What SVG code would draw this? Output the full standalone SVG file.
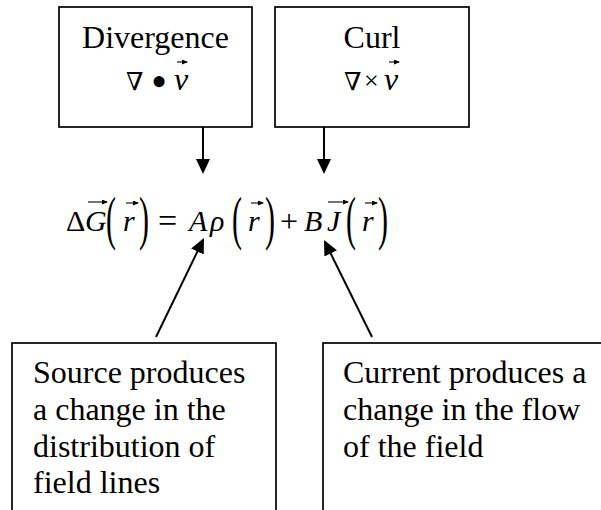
<svg xmlns="http://www.w3.org/2000/svg" width="601" height="510" viewBox="0 0 601 510">
<defs>
<style>
.box{fill:#fff;stroke:#000;stroke-width:1.7}
.t{font-family:"Liberation Serif","Times New Roman",serif;fill:#000}
.lbl{font-size:32px}
.mid{text-anchor:middle}
.it{font-style:italic}
.nab{font-family:"DejaVu Serif","Liberation Serif",serif;font-size:25px}
.eq{font-size:30px}
.par{font-size:60px}
.conn{stroke:#000;stroke-width:2;fill:none}
.vec{stroke:#000;stroke-width:1.1;fill:none}
</style>
<marker id="ah" markerUnits="userSpaceOnUse" viewBox="0 0 15 14" markerWidth="15" markerHeight="14" refX="13" refY="7" orient="auto"><path d="M0,0 L15,7 L0,14 Z" fill="#000"/></marker>
<marker id="va" markerUnits="userSpaceOnUse" viewBox="0 0 6 5" markerWidth="6" markerHeight="5" refX="5" refY="2.5" orient="auto"><path d="M0,0 L6,2.5 L0,5 Z" fill="#000"/></marker>
</defs>
<rect x="0" y="0" width="601" height="510" fill="#fff"/>

<g id="divergence">
<rect class="box" x="59" y="7" width="193" height="120"/>
<text class="t lbl mid" x="155.5" y="48">Divergence</text>
<text class="t nab" x="126" y="90">∇</text>
<text class="t" font-size="46" x="151" y="97">•</text>
<text class="t lbl it" x="174" y="90">v</text>
<path class="vec" d="M177,62 H187" marker-end="url(#va)"/>
</g>

<g id="curl">
<rect class="box" x="275" y="7" width="194" height="120"/>
<text class="t lbl mid" x="372" y="48">Curl</text>
<text class="t nab" x="344" y="90">∇</text>
<text class="t" font-size="26" x="364" y="89">×</text>
<text class="t lbl it" x="384" y="90">v</text>
<path class="vec" d="M389,62 H399" marker-end="url(#va)"/>
</g>

<g id="equation">
<text class="t eq" x="66" y="231">Δ</text>
<text class="t eq it" x="85" y="231">G</text>
<path class="vec" d="M88,202 H107" marker-end="url(#va)"/>
<text class="t par" transform="translate(106,237.6) scale(0.5,1)">(</text>
<text class="t eq it" x="123" y="231">r</text>
<path class="vec" d="M126,203 H138" marker-end="url(#va)"/>
<text class="t par" transform="translate(139,237.6) scale(0.5,1)">)</text>
<text class="t" font-size="34" x="158" y="232">=</text>
<text class="t eq it" x="189" y="231">A</text>
<text class="t eq it" x="210" y="231">ρ</text>
<text class="t par" transform="translate(232,237.6) scale(0.5,1)">(</text>
<text class="t eq it" x="248" y="231">r</text>
<path class="vec" d="M251,203 H263" marker-end="url(#va)"/>
<text class="t par" transform="translate(265,237.6) scale(0.5,1)">)</text>
<text class="t" font-size="32" x="280" y="232">+</text>
<text class="t eq it" x="304" y="231">B</text>
<text class="t eq it" x="327" y="231">J</text>
<path class="vec" d="M328,202 H348" marker-end="url(#va)"/>
<text class="t par" transform="translate(346,237.6) scale(0.5,1)">(</text>
<text class="t eq it" x="362" y="231">r</text>
<path class="vec" d="M365,203 H377" marker-end="url(#va)"/>
<text class="t par" transform="translate(378,237.6) scale(0.5,1)">)</text>
</g>

<g id="source">
<rect class="box" x="12" y="343" width="264" height="200"/>
<text class="t lbl" x="33" y="383">Source produces</text>
<text class="t lbl" x="33" y="420">a change in the</text>
<text class="t lbl" x="33" y="456.5">distribution of</text>
<text class="t lbl" x="33" y="493">field lines</text>
</g>

<g id="current">
<rect class="box" x="323" y="343" width="320" height="200"/>
<text class="t lbl" x="343" y="383">Current produces a</text>
<text class="t lbl" x="343" y="420">change in the flow</text>
<text class="t lbl" x="343" y="456.5">of the field</text>
</g>

<g id="connectors">
<line class="conn" x1="203" y1="127" x2="203" y2="172" marker-end="url(#ah)"/>
<line class="conn" x1="324" y1="127" x2="324" y2="172" marker-end="url(#ah)"/>
<line class="conn" x1="156" y1="337" x2="203.1" y2="239.8" marker-end="url(#ah)"/>
<line class="conn" x1="372" y1="337" x2="324.9" y2="241.8" marker-end="url(#ah)"/>
</g>
</svg>
